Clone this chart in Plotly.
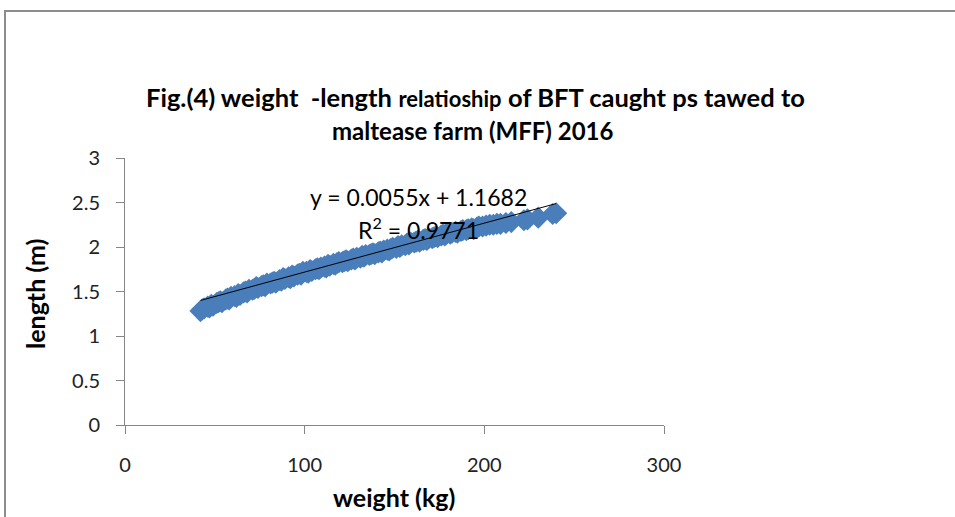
import numpy as np
import plotly.graph_objects as go

# BFT weight (kg) and fork length (m)
weight_kg = [
    42, 43, 44, 46, 47, 48, 49, 51, 52, 53, 54, 56, 57, 58, 59, 61, 62, 63, 64,
    66, 67, 68, 69, 71, 72, 73, 74, 76, 77, 78, 79, 81, 82, 83, 84, 86, 87, 88,
    89, 91, 92, 93, 94, 96, 97, 98, 99, 101, 102, 103, 104, 106, 107, 108, 109,
    111, 112, 113, 114, 116, 117, 118, 119, 121, 122, 123, 124, 126, 127, 128,
    129, 131, 132, 133, 134, 136, 137, 138, 139, 141, 142, 143, 144, 146, 147,
    148, 149, 151, 152, 153, 154, 156, 157, 158, 159, 161, 162, 163, 164, 166,
    167, 168, 169, 171, 172, 173, 174, 176, 177, 178, 179, 181, 182, 184, 185,
    187, 188, 190, 191, 193, 194, 196, 197, 199, 201, 203, 205, 207, 209, 212,
    215, 222, 224, 230, 238, 240,
]
length_m = [
    1.28, 1.30, 1.31, 1.33, 1.32, 1.35, 1.34, 1.37, 1.38, 1.39, 1.38, 1.41,
    1.42, 1.41, 1.44, 1.45, 1.44, 1.47, 1.46, 1.49, 1.50, 1.49, 1.52, 1.52,
    1.53, 1.55, 1.54, 1.56, 1.57, 1.56, 1.59, 1.59, 1.60, 1.61, 1.60, 1.63,
    1.62, 1.65, 1.64, 1.66, 1.65, 1.68, 1.67, 1.69, 1.70, 1.69, 1.72, 1.72,
    1.71, 1.74, 1.73, 1.75, 1.76, 1.75, 1.77, 1.78, 1.77, 1.80, 1.79, 1.81,
    1.80, 1.82, 1.83, 1.83, 1.84, 1.85, 1.84, 1.86, 1.87, 1.86, 1.88, 1.88,
    1.90, 1.89, 1.91, 1.91, 1.92, 1.93, 1.92, 1.94, 1.95, 1.94, 1.96, 1.97,
    1.96, 1.98, 1.99, 1.99, 2.01, 2.00, 2.02, 2.02, 2.04, 2.03, 2.05, 2.05,
    2.06, 2.07, 2.06, 2.08, 2.09, 2.08, 2.10, 2.10, 2.11, 2.12, 2.11, 2.13,
    2.14, 2.13, 2.15, 2.15, 2.16, 2.17, 2.16, 2.18, 2.19, 2.19, 2.20, 2.21,
    2.20, 2.22, 2.23, 2.23, 2.24, 2.25, 2.25, 2.26, 2.26, 2.27, 2.28, 2.30,
    2.31, 2.33, 2.37, 2.38,
]

# linear trendline as printed on the chart
slope = 0.0055
intercept = 1.1682
r_squared = 0.9771

x_ticks = [0, 100, 200, 300]
y_ticks = [0, 0.5, 1, 1.5, 2, 2.5, 3]

AXIS_GREY = "#868686"
FONT = "Lato"

trend_x = np.array([min(weight_kg), max(weight_kg)])
trend_y = slope * trend_x + intercept

fig = go.Figure()
fig.add_trace(go.Scatter(
    x=weight_kg, y=length_m, mode="markers",
    marker=dict(symbol="diamond", size=17, color="#4A7EBB", line=dict(width=0)),
    showlegend=False, hoverinfo="x+y",
))
fig.add_trace(go.Scatter(
    x=trend_x, y=trend_y, mode="lines",
    line=dict(color="black", width=1), showlegend=False, hoverinfo="skip",
))

# plot area spans px 125..664 horizontally and 158..425 vertically
L, R, T, B = 125, 291, 158, 92
W, H = 955, 517
pw, ph = W - L - R, H - T - B


def px(x):
    return (x - L) / pw


def py(y):
    return (H - B - y) / ph


annotations = [
    dict(text="<b>Fig.(4) weight  -length</b> <b><span style='font-size:22px'>relatioship</span></b> "
              "<b>of BFT caught ps tawed to</b>",
         x=px(475), y=py(97), size=25.5),
    dict(text="<b>maltease farm (MFF) 2016</b>", x=px(473), y=py(130), size=24),
    dict(text="<b>weight (kg)</b>", x=px(394), y=py(497), size=25),
    dict(text="<b>length (m)</b>", x=px(35), y=py(294), size=25, textangle=-90),
]
for a in annotations:
    a.update(xref="paper", yref="paper", showarrow=False,
             xanchor="center", yanchor="middle",
             font=dict(family=FONT, size=a.pop("size"), color="black"))

annotations += [
    dict(text=f"y = {slope}x + {intercept}", x=163.5, y=2.565),
    dict(text=f"R<sup>2</sup> = {r_squared}", x=163.5, y=2.205),
]
for a in annotations[-2:]:
    a.update(xref="x", yref="y", showarrow=False, xanchor="center",
             yanchor="middle", font=dict(family=FONT, size=23, color="black"))

axis_style = dict(
    showline=True, linecolor=AXIS_GREY, linewidth=1,
    ticks="outside", ticklen=8, tickcolor=AXIS_GREY, tickwidth=1,
    showgrid=False, zeroline=False,
    tickfont=dict(family=FONT, size=20, color="#222222"),
)

fig.update_layout(
    width=W, height=H,
    margin=dict(l=L, r=R, t=T, b=B, pad=0),
    paper_bgcolor="white", plot_bgcolor="white",
    xaxis=dict(range=[0, 300], tickvals=x_ticks, ticklabelstandoff=14, **axis_style),
    yaxis=dict(range=[0, 3], tickvals=y_ticks, ticklabelstandoff=12, **axis_style),
    annotations=annotations,
    shapes=[
        dict(type="line", xref="paper", yref="paper",
             x0=px(4), x1=px(960), y0=py(11), y1=py(11),
             line=dict(color="#8c8c8c", width=2)),
        dict(type="line", xref="paper", yref="paper",
             x0=px(5), x1=px(5), y0=py(11), y1=py(520),
             line=dict(color="#8c8c8c", width=2)),
    ],
)

# drop the default 8px body margin so the figure sits at the window's corner
fig.write_html("out.html", config={"displayModeBar": False},
               post_script="document.body.style.margin='0';")
